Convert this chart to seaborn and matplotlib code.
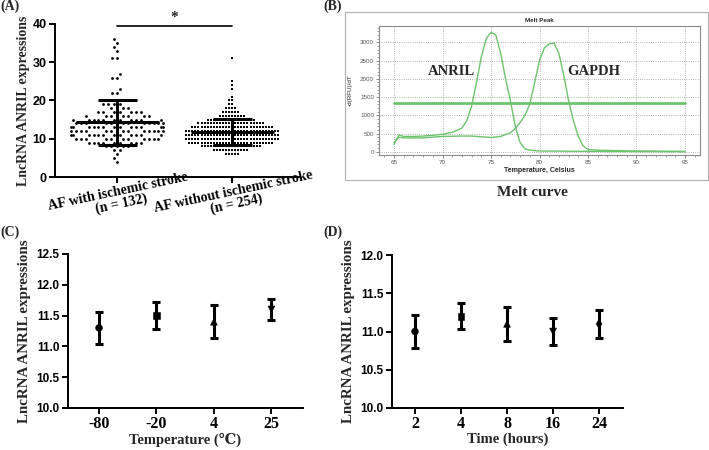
import numpy as np
import pandas as pd
import seaborn as sns
import matplotlib
matplotlib.use("Agg")
from matplotlib import pyplot as plt
from matplotlib.patches import Rectangle
from matplotlib.ticker import MultipleLocator

# ---- panel A: dot plot (value -> number of dots)
groups = ["AF with ischemic stroke\n(n = 132)", "AF without ischemic stroke\n(n = 254)"]
stroke_vals = [4, 5, 6, 7, 8, 9, 10, 11, 12, 13, 14, 15, 16, 17, 18, 19, 20,
               22, 23, 26, 27, 31, 33, 34, 35, 36]
stroke_counts = [1, 1, 1, 2, 5, 9, 12, 12, 14, 13, 13, 11, 8, 7, 4, 4, 3,
                 2, 1, 2, 1, 2, 1, 1, 1, 1]
nostroke_vals = [6, 7, 8, 9, 10, 11, 12, 13, 14, 15, 16, 17, 18, 19, 20,
                 21, 23, 24, 25, 31]
nostroke_counts = [5, 12, 20, 28, 31, 33, 32, 27, 22, 16, 9, 6, 4, 2, 2,
                   1, 1, 1, 1, 1]

# ---- panel B: melt peak curves
anril_temp = [65, 65.5, 66, 67, 68, 69, 70, 71, 72, 72.5, 73, 73.5, 74, 74.5,
              75, 75.5, 76, 76.5, 77, 77.5, 78, 78.5, 79, 80, 85, 90, 95]
anril_drfu = [200, 460, 420, 420, 430, 450, 480, 530, 650, 850, 1250, 1900,
              2600, 3100, 3280, 3200, 2700, 2000, 1400, 700, 250, 80, 40, 20,
              10, 5, 0]
gapdh_temp = [65, 65.5, 66, 68, 70, 72, 73, 74, 75, 76, 77, 77.5, 78, 78.5, 79,
              79.5, 80, 80.5, 81, 81.5, 82, 82.5, 83, 83.5, 84, 84.5, 85, 86,
              90, 95]
gapdh_drfu = [250, 400, 380, 380, 420, 430, 430, 410, 390, 420, 520, 640,
              800, 1000, 1300, 1900, 2500, 2850, 2960, 2980, 2700, 2100, 1400,
              850, 420, 160, 60, 40, 20, 10]
threshold = 1350

# ---- panel C: storage temperature
temps = ["-80", "-20", "4", "25"]
temp_mean = [11.30, 11.50, 11.40, 11.60]
temp_sd = [0.26, 0.22, 0.27, 0.17]

# ---- panel D: storage time
times = ["2", "4", "8", "16", "24"]
time_mean = [11.00, 11.20, 11.10, 11.00, 11.10]
time_sd = [0.21, 0.17, 0.22, 0.17, 0.18]

W, H = 709, 450
SERIF = ["Liberation Serif", "DejaVu Serif"]
SANS = ["Liberation Sans", "DejaVu Sans"]

sns.set_theme(style="ticks")
plt.rcParams["font.family"] = SERIF
plt.rcParams["font.weight"] = "bold"


def px_axes(fig, x0, y0, x1, y1):
    """axes from pixel box (top-left origin)"""
    return fig.add_axes([x0 / W, 1 - y1 / H, (x1 - x0) / W, (y1 - y0) / H])


def prism_style(ax, ysize=8.5):
    sns.despine(ax=ax)
    for s in ["left", "bottom"]:
        ax.spines[s].set_linewidth(1.4)
        ax.spines[s].set_color("black")
    ax.tick_params(width=1.4, length=4, pad=2, direction="out", colors="black")
    for lab in ax.get_yticklabels():
        lab.set_family(SANS)
        lab.set_fontweight("bold")
        lab.set_fontsize(ysize)


fig = plt.figure(figsize=(W / 100, H / 100), dpi=100)

# ---------------- (A)
df = pd.DataFrame({
    "group": np.concatenate([np.repeat(groups[0], sum(stroke_counts)),
                             np.repeat(groups[1], sum(nostroke_counts))]),
    "value": np.concatenate([np.repeat(stroke_vals, stroke_counts),
                             np.repeat(nostroke_vals, nostroke_counts)]).astype(float),
})
axA = px_axes(fig, 55, 24, 300, 177)
axA.set_ylim(0, 40)
axA.set_xlim(-0.54, 1.59)
# invisible edge widens the swarm spacing like the GraphPad layout
sns.swarmplot(data=df[df.group == groups[0]], x="group", y="value", order=groups,
              color="black", marker="o", size=2.0, linewidth=1.4,
              edgecolor=(1, 1, 1, 0), ax=axA, warn_thresh=1)
sns.swarmplot(data=df[df.group == groups[1]], x="group", y="value", order=groups,
              color="black", marker="s", size=2.1, linewidth=0, ax=axA, warn_thresh=1)
stats = df.groupby("group", sort=False)["value"].agg(["mean", "std"])
for i, g in enumerate(groups):
    m, sd = stats.loc[g, "mean"], stats.loc[g, "std"]
    axA.hlines(m, i - 0.36, i + 0.36, color="black", lw=2.2, zorder=5)
    axA.vlines(i, m - sd, m + sd, color="black", lw=2.2, zorder=5)
    axA.hlines([m - sd, m + sd], i - 0.17, i + 0.17, color="black", lw=2.2, zorder=5)
axA.plot([0, 1], [39.4, 39.4], color="black", lw=1.2, clip_on=False)
axA.text(0.5, 40.1, "*", ha="center", va="bottom", fontsize=11, fontweight="bold")
axA.set_ylim(0, 40)
axA.set_xlim(-0.54, 1.59)
axA.set_yticks([0, 10, 20, 30, 40])
axA.set_xlabel("")
axA.set_ylabel("LncRNA ANRIL expressions", fontsize=10, fontweight="bold", labelpad=2)
prism_style(axA, ysize=9)
axA.set_xticks([0, 1])
axA.set_xticklabels(groups, rotation=12, ha="center", fontsize=10, fontweight="bold",
                    linespacing=0.95)
for lab in axA.get_xticklabels():
    lab.set_rotation_mode("anchor")
    lab.set_va("top")

# ---------------- (B)
fig.patches.append(Rectangle((345 / W, 1 - 180 / H), 363 / W, 168 / H,
                             transform=fig.transFigure, fill=False,
                             edgecolor="#b0b0b0", lw=0.8))
axB = px_axes(fig, 379, 26, 700, 155)
green = "#6cc46c"
sns.lineplot(x=anril_temp, y=anril_drfu, color=green, lw=1.0, ax=axB)
sns.lineplot(x=gapdh_temp, y=gapdh_drfu, color=green, lw=1.0, ax=axB)
axB.plot([65, 95], [threshold, threshold], color=green, lw=2.0)
axB.set_xlim(63.45, 96.55)
axB.set_ylim(-90, 3450)
axB.set_xticks(range(65, 96, 5))
axB.set_yticks(range(0, 3001, 500))
axB.xaxis.set_minor_locator(MultipleLocator(1))
axB.yaxis.set_minor_locator(MultipleLocator(100))
axB.grid(True, ls=":", color="#9a9a9a", lw=0.6)
for s in axB.spines.values():
    s.set_color("#8a8a8a")
    s.set_linewidth(0.8)
axB.tick_params(labelsize=4.5, length=2, width=0.5, colors="#555555", pad=1.5)
axB.tick_params(which="minor", length=1.2, width=0.4, colors="#555555")
for lab in axB.get_xticklabels() + axB.get_yticklabels():
    lab.set_family(SANS)
    lab.set_fontweight("normal")
axB.set_title("Melt Peak", fontsize=4.5, family=SANS, fontweight="bold", pad=3)
axB.set_xlabel("Temperature, Celsius", fontsize=5, family=SANS, fontweight="bold", labelpad=1.5)
axB.set_ylabel("-d(RFU)/dT", fontsize=4.5, family=SANS, fontweight="normal", labelpad=5)
axB.text(70.9, 2200, "ANRIL", ha="center", va="center", fontsize=10.5, fontweight="bold")
axB.text(85.6, 2200, "GAPDH", ha="center", va="center", fontsize=10.5, fontweight="bold")
fig.text(532 / W, 1 - 193 / H, "Melt curve", ha="center", va="center",
         fontsize=11, fontweight="bold")

# ---------------- (C) and (D)
def dot_panel(box, cats, means, sds, markers, ylim, yticks, xlim, xlabel):
    ax = px_axes(fig, *box)
    sns.scatterplot(x=cats, y=means, style=cats, markers=markers, color="black",
                    s=24, edgecolor="black", legend=False, ax=ax, zorder=4)
    ax.errorbar(cats, means, yerr=sds, fmt="none", ecolor="black", elinewidth=2.2,
                capsize=3.2, capthick=2.2, zorder=3)
    ax.set_ylim(*ylim)
    ax.set_yticks(yticks)
    ax.set_yticklabels([f"{t:.1f}" for t in yticks])
    ax.set_xlim(*xlim)
    ax.set_xlabel(xlabel, fontsize=10.5, fontweight="bold", labelpad=0, family=SERIF)
    ax.set_ylabel("LncRNA ANRIL expressions", fontsize=10.8, fontweight="bold", labelpad=4)
    prism_style(ax, ysize=8.5)
    for lab in ax.get_xticklabels():
        lab.set_fontsize(11.5)
        lab.set_fontweight("bold")
    return ax


axC = dot_panel((68, 254, 303, 408), temps, temp_mean, temp_sd, ["o", "s", "^", "v"],
                (10, 12.5), [10.0, 10.5, 11.0, 11.5, 12.0, 12.5], (-0.54, 3.55),
                "Temperature (\u2103)")
axD = dot_panel((392, 255, 623, 408), times, time_mean, time_sd,
                ["o", "s", "^", "v", "d"], (10, 12), [10.0, 10.5, 11.0, 11.5, 12.0],
                (-0.5, 4.52), "Time (hours)")

# panel letters
for lbl, x, y in [("(A)", 0, 0), ("(B)", 323, 0), ("(C)", 0, 226), ("(D)", 323, 226)]:
    fig.text(x / W, 1 - y / H, lbl, ha="left", va="top", fontsize=10, fontweight="bold")

fig.savefig("out.png", dpi=100)
